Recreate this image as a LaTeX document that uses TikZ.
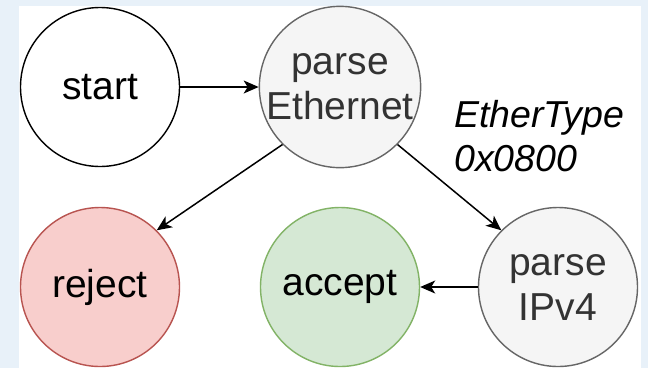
\documentclass[tikz,border=0pt]{standalone}
\usepackage{fontspec}
\setmainfont{Liberation Sans}
\usetikzlibrary{positioning,arrows.meta}

\definecolor{bgblue}{HTML}{E8F1F9}
\definecolor{rejfill}{HTML}{F8CECC}
\definecolor{rejline}{HTML}{B85450}
\definecolor{accfill}{HTML}{D5E8D4}
\definecolor{accline}{HTML}{82B366}
\definecolor{parsefill}{HTML}{F5F5F5}
\definecolor{parseline}{HTML}{666666}
\definecolor{parsetext}{HTML}{333333}

\tikzset{
  state/.style={circle, draw, line width=1.4pt, minimum size=159pt, inner sep=0pt,
    align=center, font=\fontsize{39}{45}\selectfont},
  parsestate/.style={state, fill=parsefill, draw=parseline, text=parsetext},
  trans/.style={line width=1.5pt, -{Stealth[length=15pt,width=13pt,inset=4pt]}}
}

\begin{document}
\begin{tikzpicture}[x=1pt,y=-1pt]
            \useasboundingbox (0,0) rectangle (648,368);
            \fill[bgblue] (0,0) rectangle (648,368);
            \fill[white] (19,6) rectangle (641,368);

            \coordinate (S) at (100, 87);
            \coordinate (E) at (340, 87);
            \coordinate (R) at (100, 287);
            \coordinate (A) at (340, 287);
            \coordinate (I) at (558, 287);

            \node[state, fill=white] (start) at (S) {start};
            \node[parsestate] (eth) at (E) {parse\\Ethernet};
            \node[state, fill=rejfill, draw=rejline] (reject) at (R) {reject};
            \node[state, fill=accfill, draw=accline] (accept) at (A) {accept};
            \node[parsestate] (ipv4) at (I) {parse\\IPv4};

            \node[anchor=north west, inner sep=0pt, align=left,
                  font=\fontsize{37.5}{44}\selectfont\itshape] (ethtype) at (454, 100) {EtherType\\0x0800};

            \draw[trans] (start) -- (eth);
            \draw[trans] (eth.225) -- (reject.45);
            \draw[trans] (eth.-45) -- (ipv4.135);
            \draw[trans] (ipv4) -- (accept);

        \end{tikzpicture}
\end{document}
